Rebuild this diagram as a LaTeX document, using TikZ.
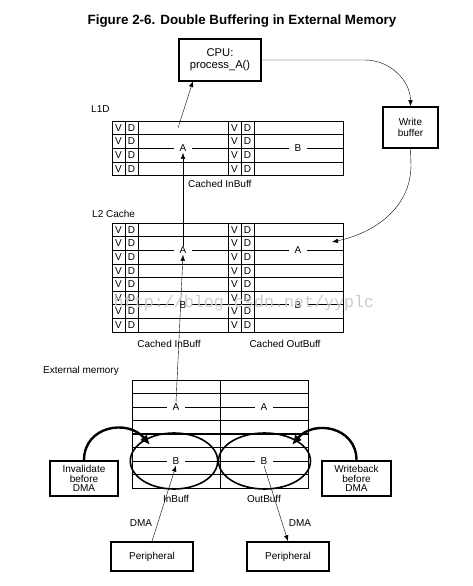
\documentclass[tikz,border=0pt]{standalone}
\usepackage{fontspec}
\setmainfont{Liberation Sans}
\newfontfamily\wmfont{Liberation Mono}
\usetikzlibrary{arrows.meta}

\begin{document}
\begin{tikzpicture}[x=1pt, y=-1pt,
        box/.style={draw, line width=1.6pt, align=center, inner sep=0pt, font=\fontsize{10}{9.5}\selectfont},
        lbl/.style={font=\fontsize{10}{10}\selectfont, inner sep=1pt},
        cell/.style={lbl, fill=white, inner xsep=6pt},
        arr/.style={-{Latex[length=6pt,width=4.5pt]}},
        bigarr/.style={line width=2.4pt, -{Latex[length=10pt,width=9pt]}}]
        \useasboundingbox (0,0) rectangle (472,586);
        \node[font=\bfseries\fontsize{13.4}{14}\selectfont] (title) at (242,21) {Figure 2-6. Double Buffering in External Memory};

        % CPU and write buffer
        \node[box, minimum width=82pt, minimum height=42pt, font=\fontsize{11.2}{11.6}\selectfont] (cpu) at (220,60) {CPU:\\process\_A()};
        \node[box, minimum width=55pt, minimum height=41pt, font=\fontsize{10}{10.3}\selectfont] (wb) at (410.5,127.5) {Write\\buffer};

        % L1D
        \node[lbl, anchor=west] (l1dname) at (90,109) {L1D};
        \draw (112,121) rectangle (343,175.4);
        \foreach \y in {134.6,148.2,161.8} \draw (112,\y) -- (343,\y);
        \foreach \x in {125,138,228,241,254} \draw (\x,121) -- (\x,175.4);
        \foreach \r in {0,...,3} {
            \node[lbl] (l1v\r) at (118.5,{127.8+13.6*\r}) {V};
            \node[lbl] (l1d\r) at (131.5,{127.8+13.6*\r}) {D};
            \node[lbl] (l1w\r) at (234.5,{127.8+13.6*\r}) {V};
            \node[lbl] (l1e\r) at (247.5,{127.8+13.6*\r}) {D};
        }
        \node[cell] (l1a) at (183,148.2) {A};
        \node[cell] (l1b) at (298,148.2) {B};
        \node[lbl, anchor=west] (l1cap) at (187,184) {Cached InBuff};

        % L2 cache
        \node[lbl, anchor=west] (l2name) at (91,214) {L2 Cache};
        \draw (112,223) rectangle (343,331.8);
        \foreach \y in {236.6,250.2,263.8,277.4,291,304.6,318.2} \draw (112,\y) -- (343,\y);
        \foreach \x in {125,138,228,241,254} \draw (\x,223) -- (\x,331.8);
        \foreach \r in {0,...,7} {
            \node[lbl] (l2v\r) at (118.5,{229.8+13.6*\r}) {V};
            \node[lbl] (l2d\r) at (131.5,{229.8+13.6*\r}) {D};
            \node[lbl] (l2w\r) at (234.5,{229.8+13.6*\r}) {V};
            \node[lbl] (l2e\r) at (247.5,{229.8+13.6*\r}) {D};
        }
        \node[cell] (l2a) at (183,250.2) {A};
        \node[cell] (l2oa) at (298,250.2) {A};
        \node[cell] (l2b) at (183,304.6) {B};
        \node[cell] (l2ob) at (298,304.6) {B};
        \node[lbl] (l2cap) at (169,344) {Cached InBuff};
        \node[lbl] (l2ocap) at (285,344) {Cached OutBuff};

        % external memory
        \node[lbl, anchor=west] (exname) at (42,371) {External memory};
        \draw (132,380) rectangle (308,488);
        \foreach \y in {393.5,407,420.5,447.5,461,474.5} \draw (132,\y) -- (308,\y);
        \draw[line width=2.4pt] (132,434) -- (308,434);
        \draw (220,380) -- (220,488);
        \draw[line width=1.6pt] (174,461) ellipse [x radius=43.7pt, y radius=28pt];
        \draw[line width=1.6pt] (264.5,461) ellipse [x radius=46pt, y radius=28pt];
        \node[cell] (exa) at (176,407) {A};
        \node[cell] (exoa) at (264,407) {A};
        \node[cell] (exb) at (176,461) {B};
        \node[cell] (exob) at (264,461) {B};
        \node[lbl] (incap) at (176,499) {InBuff};
        \node[lbl] (outcap) at (264,499) {OutBuff};

        \node[box, minimum width=68pt, minimum height=35pt] (inv) at (84,478.5) {Invalidate\\before\\DMA};
        \node[box, minimum width=69pt, minimum height=35pt] (wbk) at (356.5,478.5) {Writeback\\before\\DMA};
        \node[box, minimum width=82pt, minimum height=29pt] (per1) at (152,556.5) {Peripheral};
        \node[box, minimum width=82pt, minimum height=29pt] (per2) at (288,556.5) {Peripheral};
        \node[lbl] (dma1) at (141,523) {DMA};
        \node[lbl] (dma2) at (300,523) {DMA};

        % connectors
        \coordinate (l1out) at (178,128);
        \coordinate (cpuin) at (193,81);
        \coordinate (l2in) at (332,242);
        \coordinate (invtip) at (150,445);
        \coordinate (wbktip) at (292,445);
        \draw[arr] (l1out) -- (cpuin);
        \draw[arr] (cpu.east) -- (365,60) to[out=0, in=90] (wb.north);
        \draw[arr] (wb.south) -- (411,165) to[out=-90, in=12] (l2in);
        \draw[arr] (l2a.north) -- (l1a.south);
        \draw[arr] (exa.north) -- (l2a.south);
        \draw[arr] (per1.north) -- (exb.south);
        \draw[arr] (exob.south) -- (per2.north);
        \draw[bigarr] (inv.north) to[out=90, in=130, looseness=1.3] (invtip);
        \draw[bigarr] (wbk.north) to[out=90, in=50, looseness=1.3] (wbktip);

        % watermark
        \node[font=\wmfont\fontsize{16.7}{17}\selectfont, text=black!20, inner sep=0pt] (mark) at (244,303) {http://blog.csdn.net/yyplc};
\end{tikzpicture}
\end{document}
